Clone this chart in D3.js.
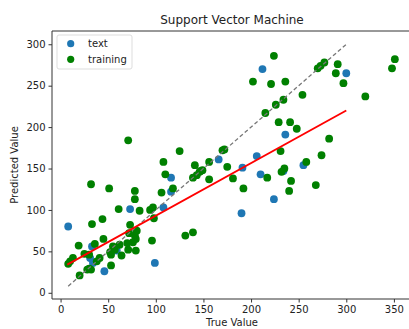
<!DOCTYPE html>
<html>
<head>
<meta charset="utf-8">
<script src="https://cdn.jsdelivr.net/npm/d3@7"></script>
<style>
  body { margin: 0; background: #fff; }
  text { font-family: "DejaVu Sans", sans-serif; fill: #222; }
  .axis path, .axis line { stroke: #333; }
</style>
</head>
<body>
<div id="chart"></div>
<script>

// test points (legend says "text")
var testTrue = [8, 33, 31, 34, 46, 59, 99, 73, 108, 116, 116, 166, 191, 206, 210, 190, 224, 234, 236, 255, 212, 300]
var testPred = [80, 56, 42, 36, 26, 51, 36, 101, 103, 122, 139, 161, 151, 165, 143, 96, 113, 147, 191, 154, 270, 265]

// training points
var trainTrue = [202, 224, 221, 236, 226, 234, 254, 270, 273, 277, 291, 289, 297, 320, 348, 351,
  215, 229, 241, 248, 282, 172, 170, 231, 274, 156, 258, 175, 147, 217, 235, 232, 156, 181, 242, 192, 268, 240,
  71, 32, 51, 78, 78, 61, 83, 94, 97, 98, 106, 108, 110, 118, 125, 141, 139, 143, 146, 149, 33, 44, 73, 131, 139,
  19, 45, 36, 25, 13, 10, 8, 30, 38, 41, 30, 32, 28, 20, 53, 52, 53, 55, 57, 62, 64, 71, 76, 72, 79, 70, 79, 96, 78, 80]
var trainPred = [255, 286, 252, 255, 227, 233, 239, 271, 274, 278, 276, 265, 253, 237, 271, 282,
  217, 206, 206, 198, 186, 173, 172, 171, 166, 158, 158, 152, 147, 139, 150, 146, 137, 138, 135, 126, 130, 123,
  184, 131, 126, 123, 113, 101, 99, 100, 103, 90, 121, 158, 143, 126, 171, 154, 139, 142, 146, 148, 83, 89, 82, 69, 73,
  57, 65, 59, 47, 42, 38, 35, 46, 38, 42, 29, 28, 28, 21, 33, 49, 46, 56, 52, 58, 45, 52, 61, 72, 65, 60, 51, 63, 69, 75]

// ideal line and fitted line
var idealX = [8, 300]
var idealY = [8, 300]
var fitX = [7, 300]
var fitY = [34, 220]

var xTicks = [0, 50, 100, 150, 200, 250, 300, 350]
var yTicks = [0, 50, 100, 150, 200, 250, 300]

var legendLabels = ['text', 'training']
var legendColors = ['#1f77b4', 'green']

var width = 409
var height = 329

var svg = d3.select('#chart')
  .append('svg')
  .attr('width', width)
  .attr('height', height)

var xScale = d3.scaleLinear()
  .domain([-9, 369])
  .range([52, 412])

var yScale = d3.scaleLinear()
  .domain([-7.5, 316])
  .range([299, 31])

// axes
svg.append('g')
  .attr('class', 'axis')
  .attr('transform', 'translate(0,' + 299 + ')')
  .call(d3.axisBottom(xScale).tickValues(xTicks).tickSize(3.5).tickPadding(3))
  .call(function(g) { g.select('.domain').attr('d', 'M52,0H412') })
  .selectAll('text').style('font-size', '10px')

svg.append('g')
  .attr('class', 'axis')
  .attr('transform', 'translate(52,0)')
  .call(d3.axisLeft(yScale).tickValues(yTicks).tickSize(3.5).tickPadding(3))
  .call(function(g) { g.select('.domain').attr('d', 'M0,31V299') })
  .selectAll('text').style('font-size', '10px')

// top spine (right one is outside the picture)
svg.append('line')
  .attr('x1', 52).attr('x2', 412)
  .attr('y1', 31).attr('y2', 31)
  .attr('stroke', '#333')

svg.append('line')
  .attr('x1', 412).attr('x2', 412)
  .attr('y1', 31).attr('y2', 299)
  .attr('stroke', '#333')

// points
svg.append('g').selectAll('circle')
  .data(d3.zip(testTrue, testPred))
  .join('circle')
  .attr('cx', d => xScale(d[0]))
  .attr('cy', d => yScale(d[1]))
  .attr('r', 3.9)
  .attr('fill', '#1f77b4')

svg.append('g').selectAll('circle')
  .data(d3.zip(trainTrue, trainPred))
  .join('circle')
  .attr('cx', d => xScale(d[0]))
  .attr('cy', d => yScale(d[1]))
  .attr('r', 3.9)
  .attr('fill', 'green')

var line = d3.line()
  .x(d => xScale(d[0]))
  .y(d => yScale(d[1]))

svg.append('path')
  .attr('d', line(d3.zip(idealX, idealY)))
  .attr('fill', 'none')
  .attr('stroke', '#777')
  .attr('stroke-width', 1.3)
  .attr('stroke-dasharray', '4,2.5')

svg.append('path')
  .attr('d', line(d3.zip(fitX, fitY)))
  .attr('fill', 'none')
  .attr('stroke', 'red')
  .attr('stroke-width', 1.8)

// legend
var legend = svg.append('g')

legend.append('rect')
  .attr('x', 57).attr('y', 35)
  .attr('width', 75).attr('height', 34)
  .attr('rx', 2)
  .attr('fill', '#fff')
  .attr('fill-opacity', 0.8)
  .attr('stroke', '#ddd')

legendLabels.forEach(function(lab, i) {
  legend.append('circle')
    .attr('cx', 70.7)
    .attr('cy', 43.7 + i * 15.6)
    .attr('r', 3.6)
    .attr('fill', legendColors[i])
  legend.append('text')
    .attr('x', 88)
    .attr('y', 47.3 + i * 15.6)
    .style('font-size', '10px')
    .text(lab)
})

// titles
svg.append('text')
  .attr('x', 232).attr('y', 24)
  .attr('text-anchor', 'middle')
  .style('font-size', '12px')
  .text('Support Vector Machine')

svg.append('text')
  .attr('x', 232).attr('y', 326)
  .attr('text-anchor', 'middle')
  .style('font-size', '10px')
  .text('True Value')

svg.append('text')
  .attr('transform', 'translate(18,165) rotate(-90)')
  .attr('text-anchor', 'middle')
  .style('font-size', '10px')
  .text('Predicted Value')

</script>
</body>
</html>
